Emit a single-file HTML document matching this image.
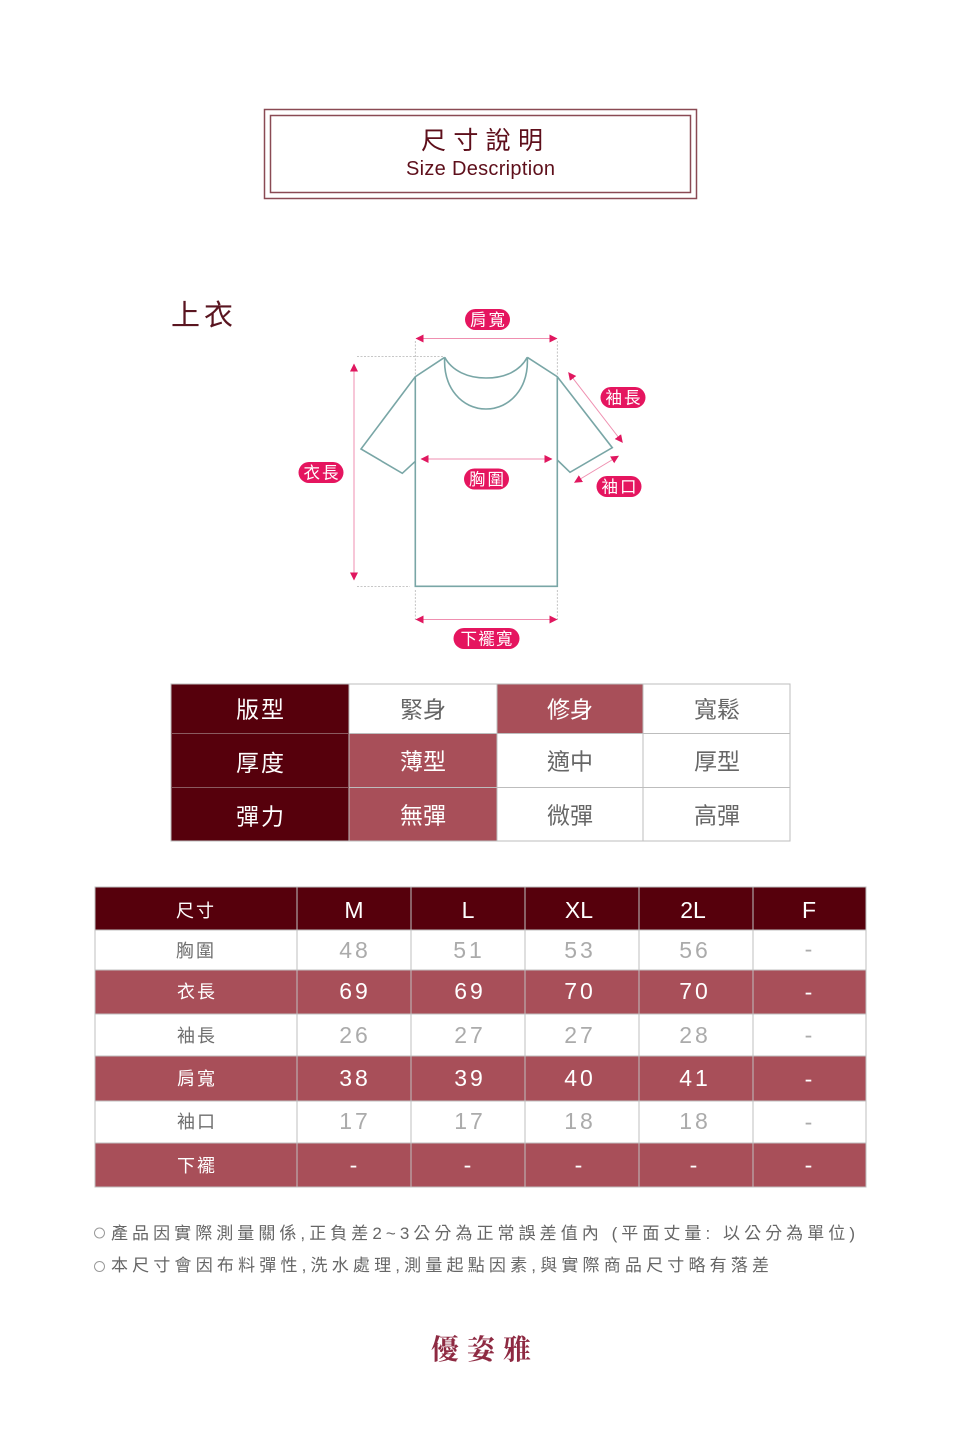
<!DOCTYPE html>
<html lang="zh-Hant">
<head>
<meta charset="utf-8">
<title>尺寸說明</title>
<style>
html,body{margin:0;padding:0;background:#fff;width:960px;height:1430px;overflow:hidden}
svg{display:block}
text{font-family:"Liberation Sans","Noto Sans CJK TC",sans-serif}
.p{fill:#fff;font-size:16.5px;text-anchor:middle}
.h{fill:#fff;font-size:23px;text-anchor:middle}
.d{fill:#666;font-size:23px;text-anchor:middle}
.w{fill:#fff;font-size:23px;text-anchor:middle}
.lw{fill:#fff;font-size:18px;text-anchor:middle}
.ld{fill:#6e6e6e;font-size:18px;text-anchor:middle}
.nw{fill:#fff;font-size:23px;text-anchor:middle;letter-spacing:3px}
.nd{fill:#ababab;font-size:23px;text-anchor:middle;letter-spacing:3px}
.n{fill:#666;font-size:17px}
</style>
</head>
<body>
<svg width="960" height="1430" viewBox="0 0 960 1430" xmlns="http://www.w3.org/2000/svg">
<defs>
<marker id="a" markerWidth="9" markerHeight="9" refX="7.5" refY="4" orient="auto-start-reverse" markerUnits="userSpaceOnUse">
<path d="M0 0L8 4L0 8Z" fill="#e0175f"/>
</marker>
</defs>

<!-- Title -->
<rect x="264.5" y="109.5" width="432" height="89" fill="none" stroke="#8a4a54" stroke-width="1.5"/>
<rect x="270.5" y="115.5" width="420" height="77" fill="none" stroke="#8a4a54" stroke-width="1.5"/>
<text x="421" y="149" font-size="25" fill="#5e0f1b" textLength="122" lengthAdjust="spacing">尺寸說明</text>
<text x="406" y="175" font-size="20" fill="#5e0f1b" textLength="149" lengthAdjust="spacing">Size Description</text>

<text x="171" y="325" font-size="29" fill="#5a1520" textLength="62" lengthAdjust="spacing">上衣</text>

<!-- Guides -->
<g fill="none" stroke="#b5b5b5" stroke-width="0.8" stroke-dasharray="2 1.5">
<path d="M357 356.5H443M357 586.5H410"/>
<path d="M415.3 341V376M557.3 341V376M415.3 590V620M557.3 590V620"/>
</g>

<!-- T-shirt -->
<g fill="none" stroke="#79a6a6" stroke-width="1.6" stroke-linejoin="miter">
<path d="M444.7 357.3L415.3 376.7L361 449L402.3 473.3L415.3 461.3M415.3 376.7V586.3H557.3V376.7M527.3 357.3L557.3 376.7L612.3 447.7L570 472.3L557.3 460"/>
<path d="M444.7 357.3C452 371 468 378 486 378C505 378 520 371 527.3 357.3"/>
<path d="M444.7 357.3C443 388 462 409 486 409C510 409 529 388 527.3 357.3"/>
</g>

<!-- Arrows -->
<g fill="none" stroke="#ef8fb0" stroke-width="1">
<line x1="416" y1="338.5" x2="557" y2="338.5" marker-start="url(#a)" marker-end="url(#a)"/>
<line x1="421" y1="459" x2="552" y2="459" marker-start="url(#a)" marker-end="url(#a)"/>
<line x1="416" y1="619.5" x2="557" y2="619.5" marker-start="url(#a)" marker-end="url(#a)"/>
<line x1="354" y1="364" x2="354" y2="580" marker-start="url(#a)" marker-end="url(#a)"/>
<line x1="568.5" y1="372.5" x2="622.5" y2="442.5" marker-start="url(#a)" marker-end="url(#a)"/>
<line x1="574.5" y1="482.5" x2="618.5" y2="456" marker-start="url(#a)" marker-end="url(#a)"/>
</g>

<!-- Pills -->
<g fill="#e5155f">
<rect x="465" y="309" width="45" height="21" rx="10.5"/>
<rect x="600.5" y="387" width="45" height="21" rx="10.5"/>
<rect x="298.5" y="462" width="45" height="21" rx="10.5"/>
<rect x="464" y="468.5" width="45" height="21" rx="10.5"/>
<rect x="596.5" y="476" width="45" height="21" rx="10.5"/>
<rect x="453.5" y="628" width="66" height="21" rx="10.5"/>
</g>
<text class="p" x="487.5" y="325.5" textLength="35" lengthAdjust="spacing">肩寬</text>
<text class="p" x="623" y="403.5" textLength="35" lengthAdjust="spacing">袖長</text>
<text class="p" x="321" y="478.5" textLength="35" lengthAdjust="spacing">衣長</text>
<text class="p" x="486.5" y="485" textLength="35" lengthAdjust="spacing">胸圍</text>
<text class="p" x="619" y="492.5" textLength="35" lengthAdjust="spacing">袖口</text>
<text class="p" x="486.5" y="644.5" textLength="52" lengthAdjust="spacing">下襬寬</text>

<!-- Fit table -->
<rect x="171" y="684" width="178" height="157" fill="#56000c"/>
<rect x="497" y="684" width="146" height="49.5" fill="#a84f59"/>
<rect x="349" y="733.5" width="148" height="107.5" fill="#a84f59"/>
<g fill="none" stroke="#bdbdbd" stroke-width="1">
<rect x="171" y="684" width="619" height="157"/>
<path d="M349 733.5H790M349 787.5H790M349 684V841M497 684V841M643 684V841"/>
</g>
<path d="M171 733.5H349M171 787.5H349" stroke="#8a5a60" stroke-width="1" fill="none"/>
<text class="h" x="260" y="717.5" textLength="48" lengthAdjust="spacing">版型</text>
<text class="h" x="260" y="771" textLength="48" lengthAdjust="spacing">厚度</text>
<text class="h" x="260" y="824.5" textLength="48" lengthAdjust="spacing">彈力</text>
<text class="d" x="423" y="717.5" textLength="46" lengthAdjust="spacing">緊身</text>
<text class="w" x="570" y="717.5" textLength="46" lengthAdjust="spacing">修身</text>
<text class="d" x="717" y="717.5" textLength="46" lengthAdjust="spacing">寬鬆</text>
<text class="w" x="423" y="769.5" textLength="46" lengthAdjust="spacing">薄型</text>
<text class="d" x="570" y="769.5" textLength="46" lengthAdjust="spacing">適中</text>
<text class="d" x="717" y="769.5" textLength="46" lengthAdjust="spacing">厚型</text>
<text class="w" x="423" y="823.5" textLength="46" lengthAdjust="spacing">無彈</text>
<text class="d" x="570" y="823.5" textLength="46" lengthAdjust="spacing">微彈</text>
<text class="d" x="717" y="823.5" textLength="46" lengthAdjust="spacing">高彈</text>

<!-- Size table -->
<rect x="95" y="887" width="771" height="43" fill="#56000c"/>
<rect x="95" y="970" width="771" height="44" fill="#a84f59"/>
<rect x="95" y="1056" width="771" height="45" fill="#a84f59"/>
<rect x="95" y="1143" width="771" height="44" fill="#a84f59"/>
<g fill="none" stroke="#bfbfbf" stroke-width="1">
<rect x="95" y="887" width="771" height="300"/>
<path d="M297 887V1187M411 887V1187M525 887V1187M639 887V1187M753 887V1187"/>
<path d="M95 930H866M95 970H866M95 1014H866M95 1056H866M95 1101H866M95 1143H866"/>
</g>
<g>
<text class="lw" x="195" y="917" textLength="38" lengthAdjust="spacing">尺寸</text>
<text class="ld" x="195" y="957" textLength="38" lengthAdjust="spacing">胸圍</text>
<text class="lw" x="196" y="998" textLength="38" lengthAdjust="spacing">衣長</text>
<text class="ld" x="196" y="1042" textLength="38" lengthAdjust="spacing">袖長</text>
<text class="lw" x="196" y="1085" textLength="38" lengthAdjust="spacing">肩寬</text>
<text class="ld" x="196" y="1128" textLength="38" lengthAdjust="spacing">袖口</text>
<text class="lw" x="196" y="1172" textLength="38" lengthAdjust="spacing">下襬</text>
</g>
<g>
<text class="nw" style="letter-spacing:0" x="354" y="918">M</text>
<text class="nw" style="letter-spacing:0" x="468" y="918">L</text>
<text class="nw" style="letter-spacing:0" x="579" y="918">XL</text>
<text class="nw" style="letter-spacing:0" x="693" y="918">2L</text>
<text class="nw" style="letter-spacing:0" x="809" y="918">F</text>

<text class="nd" x="355" y="958">48</text><text class="nd" x="469" y="958">51</text><text class="nd" x="580" y="958">53</text><text class="nd" x="695" y="958">56</text><text class="nd" x="810" y="957">-</text>
<text class="nw" x="355" y="999">69</text><text class="nw" x="470" y="999">69</text><text class="nw" x="580" y="999">70</text><text class="nw" x="695" y="999">70</text><text class="nw" x="810" y="1000">-</text>
<text class="nd" x="355" y="1043">26</text><text class="nd" x="470" y="1043">27</text><text class="nd" x="580" y="1043">27</text><text class="nd" x="695" y="1043">28</text><text class="nd" x="810" y="1043">-</text>
<text class="nw" x="355" y="1086">38</text><text class="nw" x="470" y="1086">39</text><text class="nw" x="580" y="1086">40</text><text class="nw" x="695" y="1086">41</text><text class="nw" x="810" y="1087">-</text>
<text class="nd" x="355" y="1129">17</text><text class="nd" x="470" y="1129">17</text><text class="nd" x="580" y="1129">18</text><text class="nd" x="695" y="1129">18</text><text class="nd" x="810" y="1130">-</text>
<text class="nw" x="355" y="1173">-</text><text class="nw" x="469" y="1173">-</text><text class="nw" x="580" y="1173">-</text><text class="nw" x="695" y="1173">-</text><text class="nw" x="810" y="1173">-</text>
</g>

<!-- Notes -->
<circle cx="99.5" cy="1233" r="5" fill="none" stroke="#9a9a9a" stroke-width="1"/>
<circle cx="99.5" cy="1266.5" r="5" fill="none" stroke="#9a9a9a" stroke-width="1"/>
<text class="n" x="111" y="1239" textLength="744" lengthAdjust="spacing">產品因實際測量關係,正負差2~3公分為正常誤差值內 (平面丈量: 以公分為單位)</text>
<text class="n" x="111" y="1271" textLength="658" lengthAdjust="spacing">本尺寸會因布料彈性,洗水處理,測量起點因素,與實際商品尺寸略有落差</text>

<!-- Footer -->
<text x="431" y="1359" font-size="28" font-weight="700" fill="#8e2a42" style="font-family:'Liberation Serif','Noto Serif CJK TC','Noto Serif CJK SC',serif" textLength="100" lengthAdjust="spacing">優姿雅</text>
</svg>
</body>
</html>
